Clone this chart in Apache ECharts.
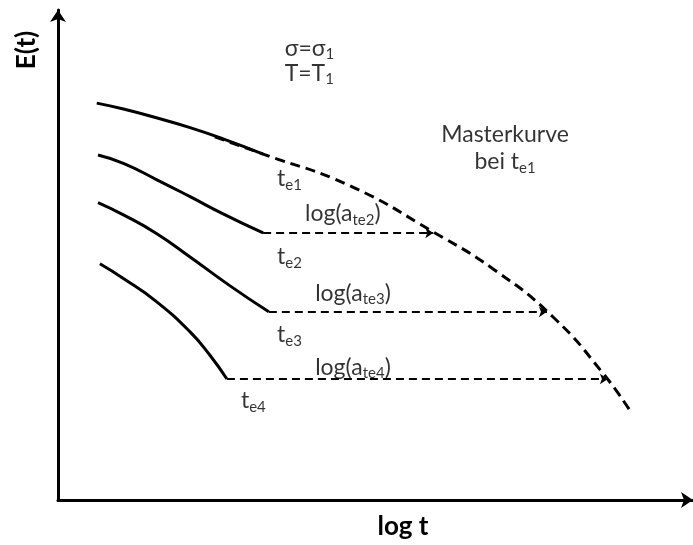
<!DOCTYPE html>
<html>
<head>
<meta charset="utf-8">
<script src="https://cdn.jsdelivr.net/npm/echarts@6/dist/echarts.min.js"></script>
<style>
  html, body { margin: 0; padding: 0; background: #fff; }
  #chart { width: 693px; height: 545px; }
</style>
</head>
<body>
<div id="chart"></div>
<script>
// Relaxation curves E(t) over log t, measured at four ageing times t_e1..t_e4
const curveTe1 = [[0.61, 8.10], [1.03, 7.98], [1.55, 7.80], [2.08, 7.60], [2.60, 7.37], [3.23, 7.06]];
const curveTe2 = [[0.63, 7.04], [1.03, 6.87], [1.55, 6.54], [2.08, 6.19], [2.60, 5.84], [3.23, 5.45]];
const curveTe3 = [[0.63, 6.07], [1.03, 5.82], [1.55, 5.44], [2.08, 4.96], [2.71, 4.37], [3.32, 3.84]];
const curveTe4 = [[0.66, 4.82], [1.03, 4.52], [1.55, 4.05], [2.08, 3.43], [2.39, 2.96], [2.66, 2.47]];

// Master curve referenced to t_e1
const masterCurve = [
  [2.47, 7.41], [3.23, 7.06], [4.60, 6.41], [5.91, 5.47],
  [6.88, 4.69], [7.80, 3.73], [8.58, 2.59], [9.04, 1.76]
];

// Horizontal shifts log(a_te) : [start x, end x, level]
const shiftTe2 = [3.23, 5.91, 5.45];
const shiftTe3 = [3.32, 7.70, 3.84];
const shiftTe4 = [2.66, 8.66, 2.47];

// Annotation texts and their anchor points
const notes = [
  { text: '{n|σ=σ}{s|1}', at: [3.57, 9.22], align: 'left' },
  { text: '{n|T=T}{s|1}', at: [3.57, 8.71], align: 'left' },
  { text: '{n|Masterkurve}', at: [7.04, 7.45], align: 'center' },
  { text: '{n|bei t}{s|e1}', at: [7.04, 6.90], align: 'center' },
  { text: '{n|t}{s|e1}', at: [3.45, 6.55], align: 'left' },
  { text: '{n|log(a}{s|te2}{n|)}', at: [3.89, 5.84], align: 'left' },
  { text: '{n|t}{s|e2}', at: [3.45, 4.96], align: 'left' },
  { text: '{n|log(a}{s|te3}{n|)}', at: [4.05, 4.22], align: 'left' },
  { text: '{n|t}{s|e3}', at: [3.45, 3.37], align: 'left' },
  { text: '{n|log(a}{s|te4}{n|)}', at: [4.05, 2.71], align: 'left' },
  { text: '{n|t}{s|e4}', at: [2.88, 2.02], align: 'left' }
];

const FONT = 'Lato';

const chart = echarts.init(document.getElementById('chart'), null, { renderer: 'canvas' });

const solid = (data) => ({
  type: 'line', data, smooth: true, symbol: 'none', silent: true,
  lineStyle: { color: '#000', width: 3 }
});

const shift = (s) => ({
  coords: [[s[0], s[2]], [s[1], s[2]]]
});

chart.setOption({
  animation: false,
  backgroundColor: '#fff',
  grid: { left: 58, right: 0, top: 10, bottom: 45 },
  xAxis: {
    type: 'value', min: 0, max: 10,
    axisLine: { show: true, onZero: false, symbol: ['none', 'arrow'], symbolSize: [12, 12],
      lineStyle: { color: '#000', width: 3 } },
    axisTick: { show: false }, axisLabel: { show: false }, splitLine: { show: false }
  },
  yAxis: {
    type: 'value', min: 0, max: 10,
    axisLine: { show: true, onZero: false, symbol: ['none', 'arrow'], symbolSize: [12, 12],
      lineStyle: { color: '#000', width: 3 } },
    axisTick: { show: false }, axisLabel: { show: false }, splitLine: { show: false }
  },
  graphic: [
    { type: 'text', x: 27, y: 50, rotation: Math.PI / 2,
      style: { text: 'E(t)', font: 'bold 26px ' + FONT, fill: '#000', align: 'center', verticalAlign: 'middle' } },
    { type: 'text', x: 403, y: 527,
      style: { text: 'log t', font: 'bold 26px ' + FONT, fill: '#000', align: 'center', verticalAlign: 'middle' } }
  ],
  series: [
    solid(curveTe1), solid(curveTe2), solid(curveTe3), solid(curveTe4),
    {
      type: 'line', data: masterCurve, smooth: true, symbol: 'none', silent: true,
      lineStyle: { color: '#000', width: 3, type: [10, 6] }
    },
    {
      type: 'lines', coordinateSystem: 'cartesian2d', silent: true,
      symbol: ['none', 'arrow'], symbolSize: 8,
      lineStyle: { color: '#000', width: 2, type: [8, 5], opacity: 1 },
      data: [shift(shiftTe2), shift(shiftTe3), shift(shiftTe4)]
    },
    {
      type: 'scatter', symbolSize: 0, silent: true,
      data: notes.map(n => ({
        value: n.at,
        label: { align: n.align }
      })),
      label: {
        show: true, position: 'inside', verticalAlign: 'middle',
        formatter: (p) => notes[p.dataIndex].text,
        rich: {
          n: { fontFamily: FONT, fontSize: 23, color: '#000' },
          s: { fontFamily: FONT, fontSize: 15, color: '#000', padding: [12, 0, 0, 0] }
        }
      }
    }
  ]
});
</script>
</body>
</html>
